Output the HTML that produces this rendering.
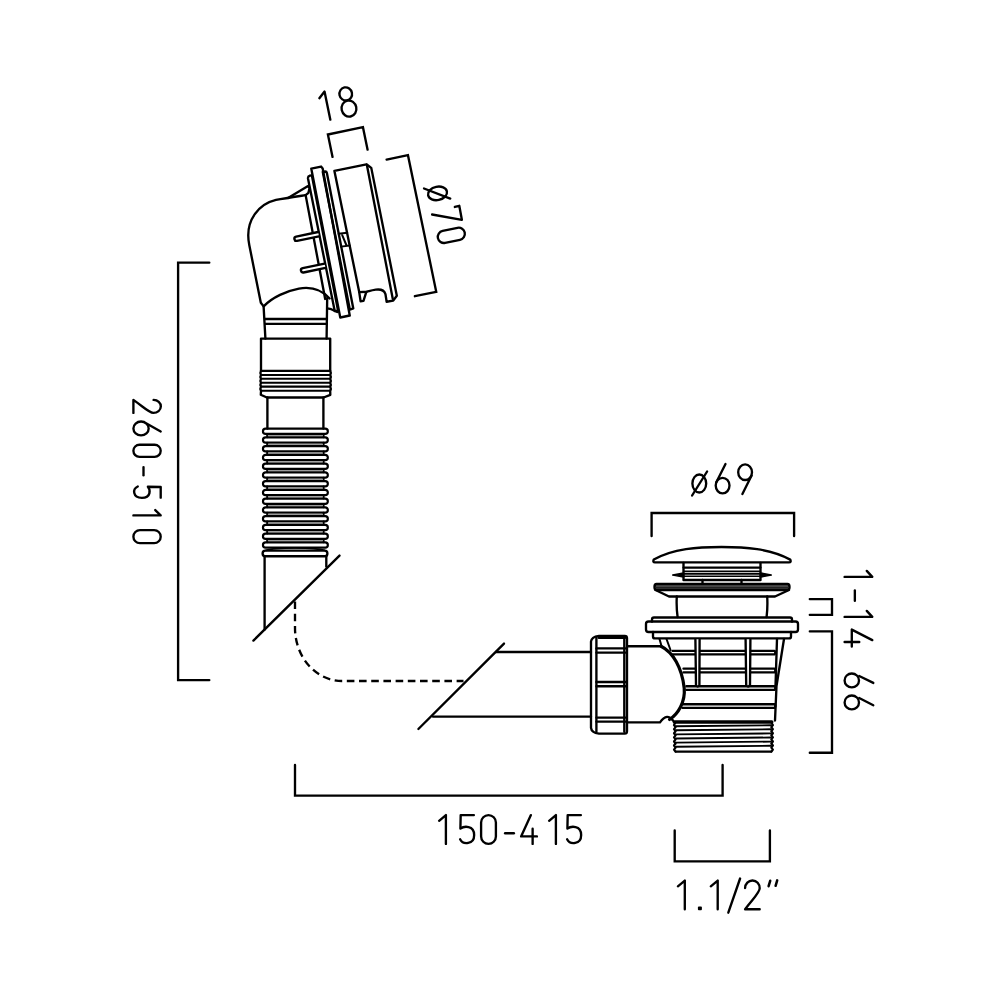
<!DOCTYPE html>
<html><head><meta charset="utf-8"><style>
html,body{margin:0;padding:0;background:#fff;}
svg{display:block;}
</style></head><body>
<svg width="1000" height="1000" viewBox="0 0 1000 1000">
<rect width="1000" height="1000" fill="#fff"/>
<g fill="none" stroke="#000" stroke-linecap="round" stroke-linejoin="round">
<path d="M209.3,262.6 H178.1 V680.1 H209.3" stroke-width="2.35" stroke-linejoin="miter"/><path d="M295,765 V795.6 H722.6 V765" stroke-width="2.35" stroke-linejoin="miter"/><path d="M651.6,536 V513 H794.1 V536" stroke-width="2.35" stroke-linejoin="miter"/><path d="M674.7,830.5 V861.3 H769.9 V830.5" stroke-width="2.35" stroke-linejoin="miter"/><path d="M809.8,599.1 H832 V614.8 H809.8" stroke-width="2.35" stroke-linejoin="miter"/><path d="M809.8,631.3 H832 V752.7 H809.8" stroke-width="2.35" stroke-linejoin="miter"/><path d="M439.1,820.86 L445.9,815.1 V843.9" stroke-width="2.35"/><path d="M473.86,815.1 H460.69 L460.4,828.64 C463.8,826.04 474.16,824.89 474.16,834.97 C474.16,844.76 463.06,845.05 460.1,839.29" stroke-width="2.35"/><path d="M481.1,822.5 A7.4,7.4 0 0 1 495.9,822.5 V836.5 A7.4,7.4 0 0 1 481.1,836.5 Z" stroke-width="2.35"/><path d="M505.1,833.24 H513.9" stroke-width="2.35"/><path d="M530.9,815.1 L521.1,836.41 H536.9 M532.63,828.64 V843.9" stroke-width="2.35"/><path d="M549.1,820.86 L555.9,815.1 V843.9" stroke-width="2.35"/><path d="M580.86,815.1 H567.69 L567.4,828.64 C570.8,826.04 581.16,824.89 581.16,834.97 C581.16,844.76 570.06,845.05 567.1,839.29" stroke-width="2.35"/><path d="M677.9,886.32 L684.8,880.6 V909.2" stroke-width="2.35"/><path d="M698.8,907.5 h2.2 v1.8 h-2.2 Z" stroke-width="1.8"/><path d="M710.8,886.32 L717.7,880.6 V909.2" stroke-width="2.35"/><path d="M728.3,912.7 L740.1,878.5" stroke-width="2.35"/><path d="M745.1,888.04 A7.3,7.72 0 0 1 759.7,888.32 C759.7,892.61 753.86,897.76 745.1,909.2 H759.7" stroke-width="2.35"/><path d="M770.2,880.8 L768.6,886.2 M777.2,880.4 L775.6,885.8" stroke-width="2.5"/><path d="M692.4,483.5 A6.9,9 0 1 0 706.2,483.5 A6.9,9 0 1 0 692.4,483.5" stroke-width="2.35"/><path d="M692.1,495.5 L707.1,471.5" stroke-width="2.35"/><path d="M725.5,464 L716.2,482.5" stroke-width="2.35"/><path d="M715.7,485.6 A6.9,7.8 0 1 0 729.5,485.6 A6.9,7.8 0 1 0 715.7,485.6" stroke-width="2.35"/><path d="M751.6,475.5 L742.4,494" stroke-width="2.35"/><path d="M738.2,472.2 A6.9,7.8 0 1 0 752,472.2 A6.9,7.8 0 1 0 738.2,472.2" stroke-width="2.35"/><g transform="translate(160.7,399.9) rotate(90)"><path d="M0,7.1 A6.5,7.37 0 0 1 13,7.37 C13,11.47 7.8,16.38 0,27.3 H13" stroke-width="2.35"/></g><g transform="translate(160.7,421.5) rotate(90)"><path d="M9.94,0 L0.83,16.38 M0,19.66 A6.9,7.64 0 1 0 13.8,19.66 A6.9,7.64 0 1 0 0,19.66" stroke-width="2.35"/></g><g transform="translate(160.7,444.7) rotate(90)"><path d="M0,6.1 A6.1,6.1 0 0 1 12.2,6.1 V21.2 A6.1,6.1 0 0 1 0,21.2 Z" stroke-width="2.35"/></g><g transform="translate(160.7,467.1) rotate(90)"><path d="M0,17.2 H8.2" stroke-width="2.35"/></g><g transform="translate(160.7,486.5) rotate(90)"><path d="M11.16,0 H0.48 L0.24,12.83 C3,10.37 11.4,9.28 11.4,18.84 C11.4,28.12 2.4,28.39 0,22.93" stroke-width="2.35"/></g><g transform="translate(160.7,510.1) rotate(90)"><path d="M0,5.46 L5.3,0 V27.3" stroke-width="2.35"/></g><g transform="translate(160.7,530.1) rotate(90)"><path d="M0,6.55 A6.55,6.55 0 0 1 13.1,6.55 V20.75 A6.55,6.55 0 0 1 0,20.75 Z" stroke-width="2.35"/></g><g transform="translate(872.3,570.9) rotate(90)"><path d="M0,5.54 L6,0 V27.7" stroke-width="2.35"/></g><g transform="translate(872.3,590.5) rotate(90)"><path d="M0,17.45 H10.2" stroke-width="2.35"/></g><g transform="translate(872.3,610.9) rotate(90)"><path d="M0,5.54 L6,0 V27.7" stroke-width="2.35"/></g><g transform="translate(872.3,629.6) rotate(90)"><path d="M10.54,0 L0,20.5 H17 M12.41,13.02 V27.7" stroke-width="2.35"/></g><path d="M859.2,676 L873.3,682.9" stroke-width="2.35"/><path d="M844.6,680.4 A7.2,6.9 0 1 0 859,680.4 A7.2,6.9 0 1 0 844.6,680.4" stroke-width="2.35"/><path d="M859.2,698 L873.3,705.2" stroke-width="2.35"/><path d="M844.6,702.4 A7.2,6.9 0 1 0 859,702.4 A7.2,6.9 0 1 0 844.6,702.4" stroke-width="2.35"/><g transform="translate(300,200) rotate(-11.7)"><path d="M40.6,-35.6 V-58.5 H76.4 V-35.6" stroke-width="2.35" stroke-linejoin="miter"/><path d="M39.6,-95.8 L46,-101.2 V-72.5" stroke-width="2.35"/><path d="M60,-94.6 A6.3,6.6 0 1 0 72.6,-94.6 A6.3,6.6 0 1 0 60,-94.6" stroke-width="2.35"/><path d="M59.1,-79.6 A7.4,8.1 0 1 0 73.9,-79.6 A7.4,8.1 0 1 0 59.1,-79.6" stroke-width="2.35"/><path d="M93,-22 H114.8 V117.5 H93" stroke-width="2.35" stroke-linejoin="miter"/><path d="M126.4,21.4 A9.6,6.7 0 1 0 145.6,21.4 A9.6,6.7 0 1 0 126.4,21.4" stroke-width="2.35"/><path d="M123.8,13.9 L147.4,29.1" stroke-width="2.35"/><path d="M150.2,38.2 L154.8,38 L154.5,52.2 L126.4,41" stroke-width="2.35"/><path d="M133.4,59.2 H148.6 A6.1,6.1 0 0 1 148.6,71.4 H133.4 A6.1,6.1 0 0 1 133.4,59.2 Z" stroke-width="2.35"/><path d="M39.3,102.2 L39.6,-21.5 H72.3 L76.3,-17 L75.4,113.4 L70.9,117.4 L64.2,117.2 L64.6,109.4 C64.2,105.8 61.5,103.6 56,103.2 C51,102.9 49,103.4 46.8,103.4 Z" stroke-width="2.35"/><path d="M39.3,102.2 L38.8,111.4 L41.7,111.7 L46.3,103.5" stroke-width="2.35"/><path d="M72.6,-20 L70.8,115.5" stroke-width="2.35"/><path d="M11.5,115.8 L12.2,-19.5 Q12.4,-21.7 14.5,-21.8 L16.6,-21.8 L14.8,115.8 Z" stroke-width="2.35"/><path d="M15.6,123.2 L17.4,-28.5 H27.4 L28.6,-26.3 L25.3,123.2 Z" stroke-width="2.35"/><path d="M26.6,117.5 L28,-22.8 H30.5 Q31.8,-22.6 31.8,-21 L30.2,117 Z" stroke-width="2.35"/><path d="M6.5,-3.6 C-5,-4.3 -15,-5 -23.5,-4.9 C-40,-4.5 -58.8,8 -58.8,34 L-59.2,92.7 L-57.2,96.8 C-47,89.5 -31,86.2 -19,86.5 C-7,86.9 3,92 9,102.4" stroke-width="2.35"/><path d="M6.5,-3.6 L4.6,102" stroke-width="2.35"/><path d="M-11.3,-4.4 L10.7,-12.1 L11.8,-9.8 L9.7,-5.3 L6.5,-3.6" stroke-width="2.35"/><path d="M11.2,35.0 H-11.2 A2.2,2.2 0 0 0 -11.2,39.4 H11.2" stroke-width="2.35" fill="#fff"/><path d="M11.2,67.3 H-11.2 A2.2,2.2 0 0 0 -11.2,71.7 H11.2" stroke-width="2.35" fill="#fff"/><path d="M31,41 L39.6,41.6 M30.8,54 L39.4,54.7 M34.2,43 L36.2,53.2" stroke-width="2.0"/></g><path d="M263.6,306.4 L265.4,338.6" stroke-width="2.35"/><path d="M327.2,298 L326.6,338.6" stroke-width="2.35"/><path d="M265,319 H326.8 M265.2,323.8 H326.8" stroke-width="2.35"/><path d="M327.2,308.4 L331.2,309.2 L337.2,312" stroke-width="2.35"/><path d="M261,338.6 H330.2 V370.8 H261 Z" stroke-width="2.35"/><path d="M261,375 H330.2" stroke-width="2.1"/><path d="M261,378.8 H330.2" stroke-width="2.1"/><path d="M261,382.8 H330.2" stroke-width="2.1"/><path d="M261,386.6 H330.2" stroke-width="2.1"/><path d="M261,390.8 H330.2" stroke-width="2.1"/><path d="M261,370.8 Q259.8,372.9 261,375 Q259.8,376.9 261,378.8 Q259.8,380.8 261,382.8 Q259.8,384.7 261,386.6 Q259.8,388.7 261,390.8 L260.8,394.8 L266.8,397.5 H323.6 L330.3,394.8 L330.2,390.8 Q331.4,388.7 330.2,386.6 Q331.4,384.7 330.2,382.8 Q331.4,380.8 330.2,378.8 Q331.4,376.9 330.2,375 Q331.4,372.9 330.2,370.8" stroke-width="2.35"/><path d="M267.4,397.5 V428.6 M323.4,397.5 V428.6" stroke-width="2.35"/><path d="M265.6,428.6 H325.2 A2.65,2.65 0 0 1 325.2,433.9 H265.6 A2.65,2.65 0 0 1 265.6,428.6 Z" stroke-width="2.15"/><path d="M267.2,433.9 V437.35 M323.6,433.9 V437.35" stroke-width="2.0"/><path d="M268.5,435.63 H322.3" stroke-width="1.3" stroke="#999"/><path d="M265.6,437.35 H325.2 A2.65,2.65 0 0 1 325.2,442.65 H265.6 A2.65,2.65 0 0 1 265.6,437.35 Z" stroke-width="2.15"/><path d="M267.2,442.65 V446.1 M323.6,442.65 V446.1" stroke-width="2.0"/><path d="M268.5,444.38 H322.3" stroke-width="1.3" stroke="#999"/><path d="M265.6,446.1 H325.2 A2.65,2.65 0 0 1 325.2,451.4 H265.6 A2.65,2.65 0 0 1 265.6,446.1 Z" stroke-width="2.15"/><path d="M267.2,451.4 V454.85 M323.6,451.4 V454.85" stroke-width="2.0"/><path d="M268.5,453.13 H322.3" stroke-width="1.3" stroke="#999"/><path d="M265.6,454.85 H325.2 A2.65,2.65 0 0 1 325.2,460.15 H265.6 A2.65,2.65 0 0 1 265.6,454.85 Z" stroke-width="2.15"/><path d="M267.2,460.15 V463.6 M323.6,460.15 V463.6" stroke-width="2.0"/><path d="M268.5,461.88 H322.3" stroke-width="1.3" stroke="#999"/><path d="M265.6,463.6 H325.2 A2.65,2.65 0 0 1 325.2,468.9 H265.6 A2.65,2.65 0 0 1 265.6,463.6 Z" stroke-width="2.15"/><path d="M267.2,468.9 V472.35 M323.6,468.9 V472.35" stroke-width="2.0"/><path d="M268.5,470.63 H322.3" stroke-width="1.3" stroke="#999"/><path d="M265.6,472.35 H325.2 A2.65,2.65 0 0 1 325.2,477.65 H265.6 A2.65,2.65 0 0 1 265.6,472.35 Z" stroke-width="2.15"/><path d="M267.2,477.65 V481.1 M323.6,477.65 V481.1" stroke-width="2.0"/><path d="M268.5,479.38 H322.3" stroke-width="1.3" stroke="#999"/><path d="M265.6,481.1 H325.2 A2.65,2.65 0 0 1 325.2,486.4 H265.6 A2.65,2.65 0 0 1 265.6,481.1 Z" stroke-width="2.15"/><path d="M267.2,486.4 V489.85 M323.6,486.4 V489.85" stroke-width="2.0"/><path d="M268.5,488.13 H322.3" stroke-width="1.3" stroke="#999"/><path d="M265.6,489.85 H325.2 A2.65,2.65 0 0 1 325.2,495.15 H265.6 A2.65,2.65 0 0 1 265.6,489.85 Z" stroke-width="2.15"/><path d="M267.2,495.15 V498.6 M323.6,495.15 V498.6" stroke-width="2.0"/><path d="M268.5,496.88 H322.3" stroke-width="1.3" stroke="#999"/><path d="M265.6,498.6 H325.2 A2.65,2.65 0 0 1 325.2,503.9 H265.6 A2.65,2.65 0 0 1 265.6,498.6 Z" stroke-width="2.15"/><path d="M267.2,503.9 V507.35 M323.6,503.9 V507.35" stroke-width="2.0"/><path d="M268.5,505.63 H322.3" stroke-width="1.3" stroke="#999"/><path d="M265.6,507.35 H325.2 A2.65,2.65 0 0 1 325.2,512.65 H265.6 A2.65,2.65 0 0 1 265.6,507.35 Z" stroke-width="2.15"/><path d="M267.2,512.65 V516.1 M323.6,512.65 V516.1" stroke-width="2.0"/><path d="M268.5,514.38 H322.3" stroke-width="1.3" stroke="#999"/><path d="M265.6,516.1 H325.2 A2.65,2.65 0 0 1 325.2,521.4 H265.6 A2.65,2.65 0 0 1 265.6,516.1 Z" stroke-width="2.15"/><path d="M267.2,521.4 V524.85 M323.6,521.4 V524.85" stroke-width="2.0"/><path d="M268.5,523.13 H322.3" stroke-width="1.3" stroke="#999"/><path d="M265.6,524.85 H325.2 A2.65,2.65 0 0 1 325.2,530.15 H265.6 A2.65,2.65 0 0 1 265.6,524.85 Z" stroke-width="2.15"/><path d="M267.2,530.15 V533.6 M323.6,530.15 V533.6" stroke-width="2.0"/><path d="M268.5,531.88 H322.3" stroke-width="1.3" stroke="#999"/><path d="M265.6,533.6 H325.2 A2.65,2.65 0 0 1 325.2,538.9 H265.6 A2.65,2.65 0 0 1 265.6,533.6 Z" stroke-width="2.15"/><path d="M267.2,538.9 V542.35 M323.6,538.9 V542.35" stroke-width="2.0"/><path d="M268.5,540.63 H322.3" stroke-width="1.3" stroke="#999"/><path d="M265.6,542.35 H325.2 A2.65,2.65 0 0 1 325.2,547.65 H265.6 A2.65,2.65 0 0 1 265.6,542.35 Z" stroke-width="2.15"/><path d="M266,550.4 Q273,548 295,547.9 Q317,548 324.5,550.4" stroke-width="1.8"/><path d="M265.4,550.6 H324.6 A2.8,2.8 0 0 1 324.6,556.2 H265.4 A2.8,2.8 0 0 1 265.4,550.6 Z" stroke-width="2.35"/><path d="M264.6,556.2 V629.5" stroke-width="2.35"/><path d="M326.3,556.2 V566.6" stroke-width="2.35"/><path d="M339.5,555.6 L253.4,640.6" stroke-width="2.35"/><path d="M295,601 V628 A47,53 0 0 0 342,681 H463.5" stroke-width="2.35" stroke-dasharray="7.6 4.6" stroke-dashoffset="-0.5" stroke-linecap="butt"/><path d="M504,643.6 L418.4,729" stroke-width="2.35"/><path d="M496,652 H591 M433,716.6 H591" stroke-width="2.35"/><path d="M591,641.5 Q591.5,636.8 599,635.8 H624.8 Q627,635.8 627,638 V731.2 Q627,733.6 624.8,733.6 H599 Q591.5,732.6 591,727.8 Z" stroke-width="2.35"/><path d="M596.4,637.6 V731.8 M624.3,637.6 V731.8" stroke-width="2.35"/><path d="M596.4,648.4 H625.5 M596.4,652.6 H625.5" stroke-width="2.35"/><path d="M596.4,682 H625.5 M596.4,686.2 H625.5" stroke-width="2.35"/><path d="M596.4,717.6 H625.5 M596.4,721.6 H625.5" stroke-width="2.35"/><path d="M598.8,637.8 H625" stroke-width="2.6"/><path d="M627,646.2 H661 M627,722.4 H660 Q663.5,717.4 667,716.9 Q670,716.7 673,720.5" stroke-width="2.35"/><path d="M661,646.2 C673,652 682,668 684.2,688 C685.5,702 678,714 669.5,719.5" stroke-width="3.2"/><path d="M655,562.4 H789 Q791.5,562.4 790.2,559.6 C770,548.5 745,547 721.5,547 C698,547 673,548.5 653.8,559.6 Q652.5,562.4 655,562.4 Z" stroke-width="2.35"/><path d="M683.5,563 V580 H760.5 V563" stroke-width="2.35"/><path d="M683.5,567.6 H760.5" stroke-width="2.2"/><path d="M683.5,571.2 H760.5" stroke-width="1.4"/><path d="M683.5,573.8 H760.5" stroke-width="2.0"/><path d="M683.5,576.2 H760.5" stroke-width="1.4"/><path d="M683.5,573 L672.8,575 L683.5,577 Z M760.5,573 L771.2,575 L760.5,577 Z" stroke-width="1.6" fill="#000"/><path d="M702.5,580 V584 M741.5,580 V584" stroke-width="2.35"/><path d="M656.5,584 H787.5 Q789.5,584 789.5,587 Q789.5,590 787.5,590 H656.5 Q654.5,590 654.5,587 Q654.5,584 656.5,584 Z" stroke-width="2.4" fill="#555"/><path d="M656,587.6 H788" stroke-width="1.6" stroke="#222"/><path d="M655.5,590 L669,596.5 H775 L789,590" stroke-width="2.35"/><path d="M676.8,596.5 Q676.2,607 677.6,617 M767.2,596.5 Q767.8,607 766.6,617" stroke-width="2.35"/><path d="M654,617.5 H790 Q792,617.5 792,619.5 V621.5 M652,621.5 V619.5 Q652,617.5 654,617.5" stroke-width="2.35"/><path d="M648.5,621.5 H795.5 Q798,621.5 798,624 V629.5 Q798,632 795.5,632 H648.5 Q646,632 646,629.5 V624 Q646,621.5 648.5,621.5 Z" stroke-width="2.35"/><path d="M653,632 V636.4 Q653,638.4 655,638.4 H789 Q791,638.4 791,636.4 V632" stroke-width="2.35"/><path d="M784,639 L776.5,686 L775,720.5 M777,639 L775.5,686" stroke-width="2.35"/><path d="M672.5,650.8 H774.5 Q776.3,652.6 774.5,654.4 H672.5" stroke-width="2.35"/><path d="M683.5,668.6 H774.5 Q776.3,670.5 774.5,672.4 H683.5" stroke-width="2.35"/><path d="M686.4,686.2 H774.5 Q776.3,688 774.5,689.8 H686.4" stroke-width="2.35"/><path d="M682.5,704.2 H774.5 Q776.3,706 774.5,707.8 H682.5" stroke-width="2.35"/><path d="M745.6,639.6 L746.2,685 Q748,688 750,685 L750.4,639.6" stroke-width="2.35" fill="#fff"/><path d="M695.4,639.6 L696,685 Q697.6,688 699.4,685 L699.6,639.6" stroke-width="2.35" fill="#fff"/><path d="M659.5,639 L661.5,646 M666.5,639 L670.5,650" stroke-width="2.0"/><path d="M674.3,722 H771.8" stroke-width="3.4"/><path d="M676,726.3 L771,725.3" stroke-width="1.9"/><path d="M676,730.3 L771,729.3" stroke-width="1.9"/><path d="M676,734.4 L771,733.4" stroke-width="1.9"/><path d="M676,738.5 L771,737.5" stroke-width="1.9"/><path d="M676,742.6 L771,741.6" stroke-width="1.9"/><path d="M676,746.8 L771,745.8" stroke-width="1.9"/><path d="M676,751.6 H771" stroke-width="2.35"/><path d="M675.2,723 L674.0,725.05 L675.6,727.1 L674.0,729.15 L675.6,731.2 L674.0,733.25 L675.6,735.3 L674.0,737.35 L675.6,739.4 L674.0,741.45 L675.6,743.5 L674.0,745.55 L675.6,747.6 L674.0,749.65 L675.6,751.7" stroke-width="2.2"/><path d="M771.6,723 L772.9,725.05 L771.3,727.1 L772.9,729.15 L771.3,731.2 L772.9,733.25 L771.3,735.3 L772.9,737.35 L771.3,739.4 L772.9,741.45 L771.3,743.5 L772.9,745.55 L771.3,747.6 L772.9,749.65 L771.3,751.7" stroke-width="2.2"/>
</g></svg></body></html>
